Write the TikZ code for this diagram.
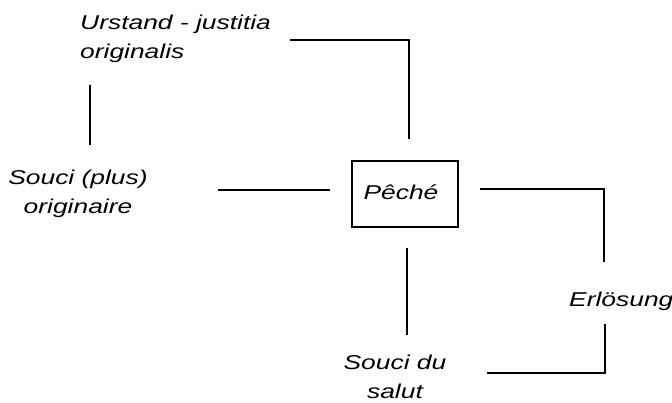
\documentclass[tikz,border=0pt]{standalone}
\usepackage{fontspec}
\setmainfont{Liberation Sans}[FakeStretch=1.32]
\begin{document}
\begin{tikzpicture}[x=1pt,y=-1pt,
  lbl/.style={inner sep=0pt,font=\fontsize{20}{29}\selectfont\itshape},
  conn/.style={line width=1.1pt}]
\useasboundingbox (0,0) rectangle (672,403);
% nodes
\node[lbl,align=left,anchor=north west] (urstand) at (80,15) {Urstand - justitia\\originalis};
\node[lbl,align=center,anchor=north] (souci) at (78,170) {Souci (plus)\\originaire};
\node[draw,line width=1.1pt,minimum width=106pt,minimum height=66pt,inner sep=0pt] (peche) at (405,194) {};
\node[lbl,anchor=base] (pechetxt) at (401,200) {Pêché};
\node[lbl,anchor=base west] (erl) at (569,307) {Erlösung};
\node[lbl,align=center,anchor=north] (salut) at (395,355) {Souci du\\salut};
% connector end points
\coordinate (u1) at (290,40);
\coordinate (u2) at (409,40);
\coordinate (u3) at (409,139);
\coordinate (v1) at (90,85);
\coordinate (v2) at (90,145);
\coordinate (s1) at (218,190);
\coordinate (s2) at (330,190);
\coordinate (r1) at (480,189);
\coordinate (r2) at (604,189);
\coordinate (r3) at (604,262);
\coordinate (e1) at (605,324);
\coordinate (e2) at (605,373);
\coordinate (e3) at (487,373);
\coordinate (d1) at (407,248);
\coordinate (d2) at (407,335);
% connectors
\draw[conn] (u1) -- (u2) -- (u3);
\draw[conn] (v1) -- (v2);
\draw[conn] (s1) -- (s2);
\draw[conn] (r1) -- (r2) -- (r3);
\draw[conn] (e1) -- (e2) -- (e3);
\draw[conn] (d1) -- (d2);
\end{tikzpicture}
\end{document}
